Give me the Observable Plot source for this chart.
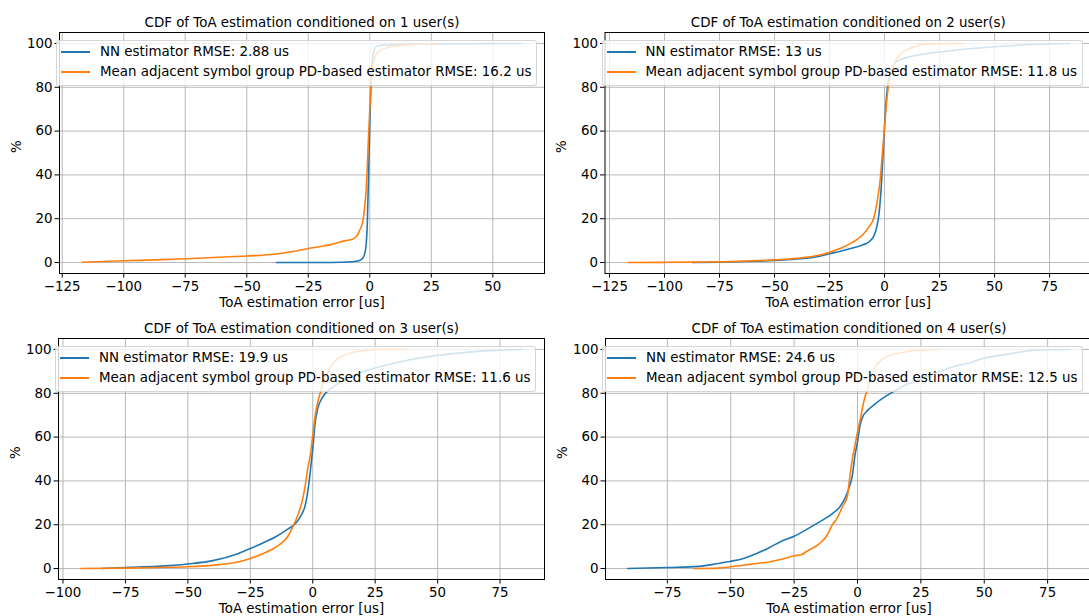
<!DOCTYPE html>
<html><head><meta charset="utf-8">
<script src="https://cdn.jsdelivr.net/npm/d3@7"></script>
<script src="https://cdn.jsdelivr.net/npm/@observablehq/plot@0.6"></script>
<style>
body{margin:0;background:#fff;}
#fig{position:relative;width:1089px;height:616px;overflow:hidden;background:#fff;font-family:"DejaVu Sans",sans-serif;}
.panel{position:absolute;}
.panel svg{max-width:none !important;display:block;}
.legend{position:absolute;background:rgba(255,255,255,0.8);border:1px solid rgba(204,204,204,0.8);border-radius:3px;padding:1px 5px 3px 4px;font-size:13.4px;color:#000;white-space:nowrap;}
.legend .row{display:flex;align-items:center;height:20px;}
.legend .sw{width:29px;height:2px;margin-right:10px;}
</style>
</head><body>
<div id="fig"></div>
<script>
// ---------------- data ----------------
const titles = [
  "CDF of ToA estimation conditioned on 1 user(s)",
  "CDF of ToA estimation conditioned on 2 user(s)",
  "CDF of ToA estimation conditioned on 3 user(s)",
  "CDF of ToA estimation conditioned on 4 user(s)"
];
const seriesNames = ["NN estimator", "Mean adjacent symbol group PD-based estimator"];
const nnRmse = ["2.88", "13", "19.9", "24.6"];
const pdRmse = ["16.2", "11.8", "11.6", "12.5"];
const xLabel = "ToA estimation error [us]";
const yLabel = "%";
const yTicks = [0, 20, 40, 60, 80, 100];
const xTicks1 = [-125, -100, -75, -50, -25, 0, 25, 50];
const xTicks2 = [-125, -100, -75, -50, -25, 0, 25, 50, 75];
const xTicks3 = [-100, -75, -50, -25, 0, 25, 50, 75];
const xTicks4 = [-75, -50, -25, 0, 25, 50, 75];

// panel 1
const nn1_x = [-37.9, -30, -20, -12, -7, -4.5, -3.2, -2.2, -1.5, -1.0, -0.5, 0, 0.5, 1.0, 1.8, 3, 6, 15, 30, 45, 62];
const nn1_y = [0, 0.02, 0.05, 0.15, 0.35, 0.8, 1.6, 3.5, 8, 18, 40, 62, 82, 92, 97, 98.8, 99.3, 99.6, 99.8, 99.9, 100];
const pd1_x = [-116.8, -100, -87, -75, -62, -50, -40, -34, -29, -25, -20, -15, -10, -7, -5, -4, -3, -2.2, -1.5, -1, -0.5, 0, 0.5, 1, 2, 3, 5, 8, 12, 18, 28];
const pd1_y = [0.15, 0.8, 1.2, 1.7, 2.4, 3, 3.7, 4.6, 5.5, 6.4, 7.3, 8.4, 10, 10.6, 12.5, 15, 18, 24, 33, 44, 58, 70, 81, 88, 93.5, 95.5, 97.2, 98.4, 99, 99.5, 100];
// panel 2
const nn2_x = [-87.4, -75, -62, -50, -40, -30, -25, -20, -15, -10, -7, -5, -3.5, -2.5, -1.5, -0.5, 0.5, 1.5, 3, 5, 7, 10, 15, 20, 30, 40, 50, 65, 84];
const nn2_y = [0, 0.15, 0.5, 0.9, 1.6, 2.8, 4, 5.2, 6.5, 8, 9.5, 11.8, 16.4, 22.4, 34.5, 52.7, 71, 81.5, 88.3, 91.4, 92.6, 93.6, 94.7, 95.5, 96.7, 97.7, 98.5, 99.4, 100];
const pd2_x = [-116.5, -100, -87, -75, -62, -50, -40, -30, -25, -20, -15, -10, -7, -5, -3.5, -2, -1, 0, 1, 2, 4, 7, 10, 15, 20, 28, 36];
const pd2_y = [0, 0.1, 0.2, 0.3, 0.7, 1.2, 1.9, 3.3, 4.7, 6.5, 9, 12.6, 16.4, 20, 27, 37.6, 49.7, 61.8, 74, 82.3, 89.8, 95, 97, 99, 99.7, 99.9, 100];
// panel 3
const nn3_x = [-84.4, -75, -62.5, -50, -40, -30, -25, -20, -15, -10, -7, -5, -3, -2, -1, 0, 1, 2, 4, 7, 10, 15, 20, 25, 37.5, 50, 62.5, 75, 84];
const nn3_y = [0, 0.5, 1, 2.1, 3.6, 6.8, 9.1, 11.7, 14.4, 18, 20.5, 23.6, 28.9, 35, 44, 54.7, 66.9, 73, 78.3, 82, 84.3, 87.4, 89.7, 91.5, 95, 97.3, 98.8, 99.7, 100];
const pd3_x = [-92.8, -75, -62, -50, -37.5, -30, -25, -20, -15, -12.5, -10, -8, -6, -4, -3, -2, -1, 0, 1, 2, 3, 4.5, 6, 8, 10, 15, 20, 25, 37.5];
const pd3_y = [0, 0.2, 0.5, 0.8, 1.8, 3, 4.6, 6.8, 9.6, 11.6, 14.6, 19, 24.3, 31.9, 38, 45.6, 51.7, 60.8, 70, 76, 80, 85.9, 89.7, 93.5, 95.7, 98.3, 99.4, 100, 100];
// panel 4
const nn4_x = [-90.7, -75, -62.5, -55, -50, -45, -40, -35, -30, -25, -20, -15, -10, -7, -5, -3, -2, -1, 0, 1, 2, 4, 7, 10, 15, 20, 25, 30, 37.5, 45, 50, 60, 70, 84];
const nn4_y = [0, 0.5, 1, 2.3, 3.3, 4.6, 6.8, 9.4, 12.5, 14.7, 17.9, 21.3, 25, 28.1, 31.9, 38, 42.6, 51.7, 57.8, 65.3, 69.1, 72.2, 75.2, 77.8, 81.3, 84.3, 86.6, 88.9, 92, 94.2, 96, 98, 99.7, 100];
const pd4_x = [-64.6, -55, -50, -45, -40, -35, -30, -25, -22, -20, -15, -12, -10, -8, -6, -4, -3, -2, -1, 0, 1, 2, 3, 4, 5, 7, 10, 15, 20, 32];
const pd4_y = [0, 0.2, 0.8, 1.5, 2.3, 3, 4.2, 5.8, 6.4, 7.9, 11.4, 15.2, 19.8, 23, 28.1, 33, 42, 50.2, 56.2, 62.3, 67.5, 73.5, 78.5, 82, 86.6, 92, 95.7, 98, 99.1, 100];

// ---------------- layout ----------------
const C_NN = "#1f77b4", C_PD = "#ff7f0e";
const panels = [
  {left: 0,   top: 0,   w: 545, h: 308, ml: 59,   mr: 1,   mt: 32, mb: 35, xd: [-126.1, 71.0], xt: xTicks1, nx: nn1_x, ny: nn1_y, px: pd1_x, py: pd1_y},
  {left: 546, top: 0,   w: 545, h: 308, ml: 58.5, mr: 0,   mt: 32, mb: 35, xd: [-127.05, 94.05], xt: xTicks2, nx: nn2_x, ny: nn2_y, px: pd2_x, py: pd2_y},
  {left: 0,   top: 306, w: 545, h: 310, ml: 58,   mr: 1,   mt: 32, mb: 37, xd: [-101.8, 92.8], xt: xTicks3, nx: nn3_x, ny: nn3_y, px: pd3_x, py: pd3_y},
  {left: 547, top: 306, w: 545, h: 310, ml: 58,   mr: 0,   mt: 32, mb: 37, xd: [-99.4, 92.7], xt: xTicks4, nx: nn4_x, ny: nn4_y, px: pd4_x, py: pd4_y}
];

const fig = document.getElementById("fig");
const toRows = (xs, ys) => xs.map((x, i) => ({x, y: ys[i]}));

panels.forEach((p, k) => {
  const plot = Plot.plot({
    width: p.w, height: p.h,
    marginLeft: p.ml, marginRight: p.mr, marginTop: p.mt, marginBottom: p.mb,
    style: {fontFamily: "DejaVu Sans", fontSize: "13.4px", color: "#000", background: "transparent", overflow: "visible", maxWidth: "none"},
    x: {domain: p.xd},
    y: {domain: [-5, 105]},
    marks: [
      Plot.gridX(p.xt, {stroke: "#b0b0b0", strokeOpacity: 1, strokeWidth: 0.9}),
      Plot.gridY(yTicks, {stroke: "#b0b0b0", strokeOpacity: 1, strokeWidth: 0.9}),
      Plot.line(toRows(p.nx, p.ny), {x: "x", y: "y", stroke: C_NN, strokeWidth: 1.6, curve: "monotone-x"}),
      Plot.line(toRows(p.px, p.py), {x: "x", y: "y", stroke: C_PD, strokeWidth: 1.6, curve: "monotone-x"}),
      Plot.frame({stroke: "#000", strokeWidth: 1}),
      Plot.axisX(p.xt, {tickSize: 4.5, tickPadding: 3, fontSize: 13.4, label: null}),
      Plot.axisY(yTicks, {tickSize: 4.5, tickPadding: 2.5, fontSize: 13.4, label: null}),
      Plot.text([titles[k]], {text: d => d, frameAnchor: "top", lineAnchor: "middle", dy: -10, fontSize: 13.4}),
      Plot.text([xLabel], {text: d => d, frameAnchor: "bottom", lineAnchor: "middle", dy: 29, fontSize: 13.4}),
      Plot.text([yLabel], {text: d => d, frameAnchor: "left", lineAnchor: "middle", dx: -43, rotate: -90, fontSize: 13.4})
    ]
  });
  const wrap = document.createElement("div");
  wrap.className = "panel";
  wrap.style.left = p.left + "px";
  wrap.style.top = p.top + "px";
  wrap.style.width = p.w + "px";
  wrap.style.height = p.h + "px";
  wrap.appendChild(plot);
  fig.appendChild(wrap);

  const lg = document.createElement("div");
  lg.className = "legend";
  lg.style.left = (p.left + p.ml - 3) + "px";
  lg.style.top = (p.top + p.mt + 7.5) + "px";
  const labels = [
    [C_NN, `${seriesNames[0]} RMSE: ${nnRmse[k]} us`],
    [C_PD, `${seriesNames[1]} RMSE: ${pdRmse[k]} us`]
  ];
  labels.forEach(([c, t]) => {
    const row = document.createElement("div");
    row.className = "row";
    const sw = document.createElement("div");
    sw.className = "sw";
    sw.style.background = c;
    const sp = document.createElement("span");
    sp.textContent = t;
    row.appendChild(sw); row.appendChild(sp);
    lg.appendChild(row);
  });
  fig.appendChild(lg);
});
</script>
</body></html>
